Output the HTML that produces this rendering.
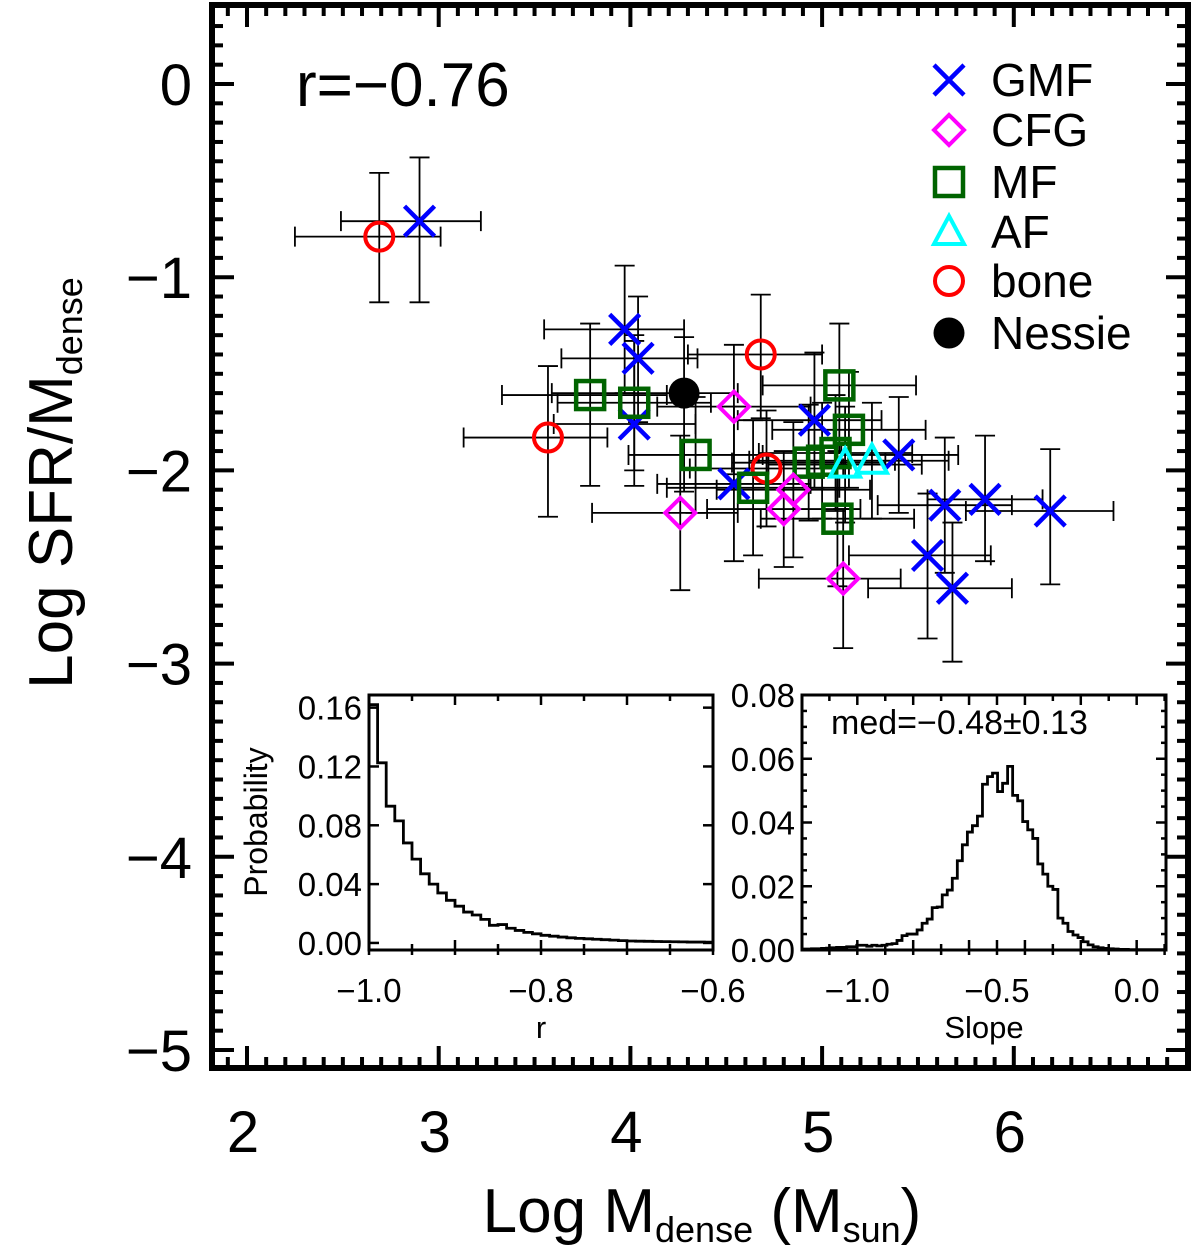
<!DOCTYPE html>
<html><head><meta charset="utf-8"><style>
html,body{margin:0;padding:0;background:#fff}
svg{display:block}
text{font-family:"Liberation Sans",Arial,sans-serif;fill:#000}
</style></head><body>
<svg id="chart" width="1200" height="1249" viewBox="0 0 1200 1249" xmlns="http://www.w3.org/2000/svg">
<g id="main"></g>
<g id="inset1"></g>
<g id="inset2"></g>
</svg>
<script>
// ---- main scatter data ----
const groups = ["GMF","GMF","GMF","GMF","GMF","GMF","GMF","GMF","GMF","GMF","GMF","GMF",
  "bone","bone","bone","bone",
  "MF","MF","MF","MF","MF","MF","MF","MF","MF","MF",
  "CFG","CFG","CFG","CFG","CFG",
  "AF","AF","Nessie"];
const xVals = [2.90,3.97,4.04,4.02,4.96,5.40,4.54,5.64,5.85,6.19,5.55,5.68,
  2.69,3.57,4.68,4.71,
  3.79,4.02,4.34,5.09,5.14,4.93,5.00,5.07,4.64,5.08,
  4.26,4.54,4.85,4.80,5.11,
  5.26,5.12,4.28];
const yVals = [-0.71,-1.27,-1.42,-1.76,-1.74,-1.92,-2.07,-2.18,-2.15,-2.21,-2.44,-2.61,
  -0.79,-1.83,-1.40,-1.99,
  -1.61,-1.65,-1.92,-1.56,-1.79,-1.96,-1.95,-1.91,-2.09,-2.25,
  -2.22,-1.67,-2.10,-2.20,-2.56,
  -1.95,-1.97,-1.60];
const xErrLo = [0.41,0.42,0.40,0.42,0.40,0.30,0.40,0.35,0.30,0.44,0.41,0.44,
  0.44,0.44,0.38,0.40,
  0.46,0.40,0.35,0.40,0.40,0.40,0.38,0.40,0.45,0.40,
  0.46,0.40,0.40,0.40,0.44,
  0.40,0.40,0.69];
const xErrHi = [0.32,0.31,0.31,0.32,0.35,0.31,0.40,0.35,0.30,0.33,0.33,0.31,
  0.32,0.31,0.32,0.40,
  0.40,0.40,0.35,0.40,0.40,0.40,0.38,0.40,0.45,0.40,
  0.30,0.40,0.40,0.40,0.30,
  0.40,0.40,0.28];
const yErrLo = [0.42,0.33,0.33,0.32,0.35,0.30,0.40,0.35,0.32,0.38,0.43,0.38,
  0.34,0.41,0.33,0.30,
  0.47,0.35,0.30,0.35,0.30,0.30,0.30,0.30,0.35,0.35,
  0.40,0.35,0.35,0.30,0.36,
  0.30,0.30,0.51];
const yErrHi = [0.33,0.33,0.32,0.43,0.35,0.30,0.40,0.35,0.33,0.32,0.32,0.34,
  0.33,0.37,0.31,0.30,
  0.37,0.35,0.30,0.32,0.30,0.30,0.30,0.30,0.35,0.35,
  0.40,0.32,0.35,0.30,0.36,
  0.30,0.30,0.29];
const legendNames = ["GMF","CFG","MF","AF","bone","Nessie"];
const xTickLabels = [2,3,4,5,6];
const yTickLabels = [0,-1,-2,-3,-4,-5];

// ---- inset histograms ----
const rBinStart = -1.0, rBinWidth = 0.01;
const rProb = [0.162,0.1225,0.093,0.083,0.068,0.057,0.047,0.040,0.034,0.029,0.025,0.021,0.019,0.016,0.012,0.0125,0.010,0.0085,0.0072,0.0062,0.0052,0.0046,0.0040,0.0035,0.0031,0.0028,0.0025,0.0022,0.0019,0.0016,0.0013,0.0012,0.0011,0.0010,0.0009,0.0008,0.0007,0.0006,0.0006,0.0005];
const rTicks = [-1.0,-0.8,-0.6];
const pTicks1 = [0.00,0.04,0.08,0.12,0.16];
const sBinStart = -1.2, sBinWidth = 0.018;
const sProb = [0.0003,0.0003,0.0004,0.0004,0.0005,0.0006,0.0007,0.0008,0.0008,0.001,0.001,
  0.0015,0.0015,0.0012,0.0015,0.0013,0.0015,0.0018,0.002,0.003,0.0045,0.005,0.005,0.0063,0.0084,0.0097,
  0.0133,0.0135,0.0173,0.0188,0.0225,0.028,0.033,0.037,0.039,0.042,0.052,0.0544,0.0555,0.0497,0.0523,
  0.0576,0.0485,0.0468,0.0403,0.0377,0.035,0.027,0.0238,0.02,0.019,0.01,0.0084,0.0058,0.0047,0.0039,
  0.0026,0.0016,0.001,0.0007,0.0005,0.0004,0.0003,0.0002,0.0002,0.0001,0.0001,0.0001,0.0001,0.0001,0.0001,0.0001];
const sTicks = [-1.0,-0.5,0.0];
const pTicks2 = [0.00,0.02,0.04,0.06,0.08];

const NS="http://www.w3.org/2000/svg";
function mk(parent,tag,attrs,txt){const e=document.createElementNS(NS,tag);for(const k in attrs)e.setAttribute(k,attrs[k]);if(txt!==undefined)e.textContent=txt;parent.appendChild(e);return e;}
function fmtNum(v,d){const s=Math.abs(v).toFixed(d);return (v<0?"\u2212":"")+s;}

const X0=212,X1=1188,Y0=5,Y1=1068;
const sx=v=>247+(v-2)*191.7;
const sy=v=>84-v*193.2;
const main=document.getElementById('main');

const fr=mk(main,'rect',{x:X0,y:Y0,width:X1-X0,height:Y1-Y0,fill:'none',stroke:'#000','stroke-width':6});



for(let i=18;i<=69;i++){const v=i/10;const px=sx(v);if(px<X0+3||px>X1-3)continue;const major=i%10===0;const L=major?22:11;
  mk(main,'line',{x1:px,y1:Y1,x2:px,y2:Y1-L,stroke:'#000','stroke-width':4});
  mk(main,'line',{x1:px,y1:Y0,x2:px,y2:Y0+L,stroke:'#000','stroke-width':4});}
xTickLabels.forEach(v=>{const t=mk(main,'text',{x:sx(v)-4,y:1152,'font-size':58,'text-anchor':'middle'},String(v));
  
  });
for(let i=-51;i<=4;i++){const v=i/10;const py=sy(v);if(py<Y0+3||py>Y1-3)continue;const major=i%10===0;const L=major?22:11;
  mk(main,'line',{x1:X0,y1:py,x2:X0+L,y2:py,stroke:'#000','stroke-width':4});
  mk(main,'line',{x1:X1,y1:py,x2:X1-L,y2:py,stroke:'#000','stroke-width':4});}
yTickLabels.forEach(v=>{const t=mk(main,'text',{x:192,y:sy(v)+21,'font-size':58,'text-anchor':'end'},v===0?"0":"\u2212"+Math.abs(v));
  
  });

const xt=mk(main,'text',{x:702,y:1232,'font-size':62,'text-anchor':'middle'});
xt.innerHTML='Log M<tspan font-size="36" dy="10">dense</tspan><tspan dy="-10"> (M</tspan><tspan font-size="36" dy="10">sun</tspan><tspan dy="-10">)</tspan>';


const yt=mk(main,'text',{x:0,y:0,'font-size':62,'text-anchor':'middle',transform:'translate(72,483) rotate(-90)'});
yt.innerHTML='Log SFR/M<tspan font-size="36" dy="10">dense</tspan>';



const rt=mk(main,'text',{x:296,y:106,'font-size':62},'r=\u22120.76');



const colors={GMF:'#0000ff',CFG:'#ff00ff',MF:'#006400',AF:'#00ffff',bone:'#ff0000',Nessie:'#000'};
function marker(g,type,cx,cy){
  const c=colors[type];let e;
  if(type==='GMF'){e=mk(g,'path',{d:`M${cx-15},${cy-15}L${cx+15},${cy+15}M${cx+15},${cy-15}L${cx-15},${cy+15}`,stroke:c,'stroke-width':4.5,fill:'none'});}
  else if(type==='CFG'){e=mk(g,'path',{d:`M${cx},${cy-15}L${cx+15},${cy}L${cx},${cy+15}L${cx-15},${cy}Z`,stroke:c,'stroke-width':4,fill:'none'});}
  else if(type==='MF'){e=mk(g,'rect',{x:cx-14,y:cy-14,width:28,height:28,stroke:c,'stroke-width':4.5,fill:'none'});}
  else if(type==='AF'){e=mk(g,'path',{d:`M${cx},${cy-16}L${cx+15},${cy+12}L${cx-15},${cy+12}Z`,stroke:c,'stroke-width':4,fill:'none'});}
  else if(type==='bone'){e=mk(g,'circle',{cx:cx,cy:cy,r:14,stroke:c,'stroke-width':4,fill:'none'});}
  else {e=mk(g,'circle',{cx:cx,cy:cy,r:15.5,fill:c});}
  return e;
}
const pts=mk(main,'g',{});


const errG=mk(pts,'g',{stroke:'#000','stroke-width':1.8,fill:'none'});
for(let i=0;i<xVals.length;i++){
  const cx=sx(xVals[i]),cy=sy(yVals[i]);
  const xl=sx(xVals[i]-xErrLo[i]),xh=sx(xVals[i]+xErrHi[i]);
  const yl=sy(yVals[i]-yErrLo[i]),yh=sy(yVals[i]+yErrHi[i]);
  const eb=mk(errG,'path',{d:`M${xl},${cy}H${xh}M${xl},${cy-10}V${cy+10}M${xh},${cy-10}V${cy+10}M${cx},${yh}V${yl}M${cx-10},${yh}H${cx+10}M${cx-10},${yl}H${cx+10}`});
  
  
}
for(let i=0;i<xVals.length;i++){
  const m=marker(pts,groups[i],sx(xVals[i]),sy(yVals[i]));
  
  
}
const lg=mk(main,'g',{});


const legY=[80,130,182,232,281,333];
legendNames.forEach((n,i)=>{
  const m=marker(lg,n,949,legY[i]);
  
  
  const t=mk(lg,'text',{x:991,y:legY[i]+16,'font-size':46},n);
  
  
});

function inset(g,L,R,T,B,xmin,xmax,ymin,ymax,binStart,binW,vals,xt,yt,xdec,ydec,xminor,yminor,xlab){
  const fx=v=>L+(v-xmin)/(xmax-xmin)*(R-L);
  const fy=v=>B-(v-ymin)/(ymax-ymin)*(B-T);
  mk(g,'rect',{x:L,y:T,width:R-L,height:B-T,fill:'#fff',stroke:'#000','stroke-width':3});
  let d='';
  vals.forEach((v,i)=>{const a=Math.max(binStart+i*binW,xmin),b=Math.min(binStart+(i+1)*binW,xmax);if(b<=a)return;
    const y=fy(v);d+=(d?`L${fx(a)},${y}`:`M${fx(a)},${y}`)+`L${fx(b)},${y}`;});
  const h=mk(g,'path',{d:d,fill:'none',stroke:'#000','stroke-width':2.8});
  
  
  for(let v=Math.ceil(xmin/xminor-1e-6)*xminor;v<=xmax+1e-9;v+=xminor){const px=fx(v);const maj=xt.some(t=>Math.abs(t-v)<1e-6)||Math.abs(Math.round(v/(xminor*2))*(xminor*2)-v)<1e-6;const l=maj?10:6;
    mk(g,'line',{x1:px,y1:B,x2:px,y2:B-l,stroke:'#000','stroke-width':2.5});
    mk(g,'line',{x1:px,y1:B,x2:px,y2:B+5,stroke:'#000','stroke-width':2.5});
    mk(g,'line',{x1:px,y1:T,x2:px,y2:T+l,stroke:'#000','stroke-width':2.5});}
  for(let v=0;v<=ymax+1e-9;v+=yminor){const py=fy(v);const maj=yt.some(t=>Math.abs(t-v)<1e-6);const l=maj?10:5;
    mk(g,'line',{x1:L,y1:py,x2:L+l,y2:py,stroke:'#000','stroke-width':2.5});
    mk(g,'line',{x1:R,y1:py,x2:R-l,y2:py,stroke:'#000','stroke-width':2.5});}
  xt.forEach(v=>{const t=mk(g,'text',{x:fx(v),y:B+52,'font-size':33,'text-anchor':'middle'},fmtNum(v,xdec));
    
    });
  yt.forEach(v=>{const t=mk(g,'text',{x:L-7,y:fy(v)+12,'font-size':33,'text-anchor':'end'},v.toFixed(ydec));
    
    });
  const xl=mk(g,'text',{x:(L+R)/2,y:B+88,'font-size':31,'text-anchor':'middle'},xlab);
  
  
}
const g1=document.getElementById('inset1');
inset(g1,369,713,695,950,-1.0,-0.6,-0.0048,0.1686,rBinStart,rBinWidth,rProb,rTicks,pTicks1,1,2,0.05,0.04,'r');
const pl=mk(g1,'text',{x:0,y:0,'font-size':32,'text-anchor':'middle',transform:'translate(267,822) rotate(-90)'},'Probability');


const g2=document.getElementById('inset2');
inset(g2,802,1166,695,950,-1.198,0.105,0,0.08,sBinStart,sBinWidth,sProb,sTicks,pTicks2,1,2,0.1,0.005,'Slope');
const md=mk(g2,'text',{x:831,y:734,'font-size':34},'med=\u22120.48\u00b10.13');


</script>
</body></html>
